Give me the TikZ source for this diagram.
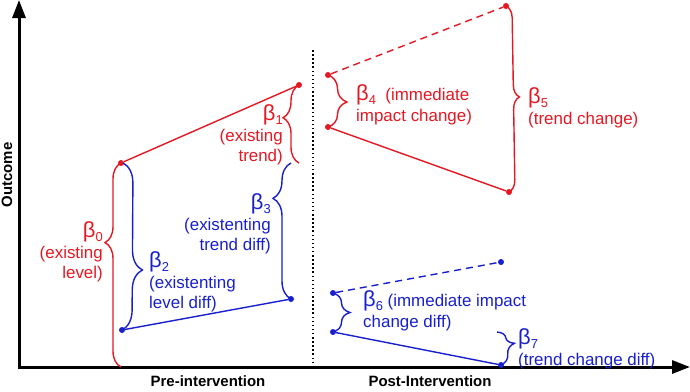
\documentclass[tikz,border=0pt]{standalone}
\usepackage{fontspec}
\setmainfont{Liberation Sans}
\usetikzlibrary{arrows.meta,decorations.pathreplacing,positioning}
\definecolor{rojo}{RGB}{228,24,34}
\definecolor{azul}{RGB}{24,32,205}
\tikzset{
  pt/.style={circle,fill,inner sep=0pt,minimum size=6bp},
  ejes/.style={line width=3bp,{Triangle[length=18bp,width=13bp]}-{Triangle[length=18bp,width=13bp]}},
  recta/.style={line width=1.4bp},
  discont/.style={recta,dash pattern=on 7bp off 5bp},
  llave/.style 2 args={decorate,line width=1.4bp,decoration={brace,amplitude=#1,aspect=#2}},
  etiq/.style={font=\fontsize{17}{21}\selectfont,inner sep=0pt},
  rotulo/.style={font=\fontsize{15}{18}\selectfont\bfseries,inner sep=0pt}
}
\newcommand{\coef}[1]{{\fontsize{22}{22}\selectfont β}\raisebox{-4.5bp}{\fontsize{13}{13}\selectfont #1}}

\begin{document}
\begin{tikzpicture}[x=1bp,y=-1bp]
\useasboundingbox (0,0) rectangle (690,391);
\coordinate (O) at (19,367);
\coordinate (ytop) at (19,0);
\coordinate (xend) at (690,367);
\draw[ejes] (ytop) -- (O) -- (xend);
\node[rotulo,rotate=90] (ylab) at (7,175) {Outcome};
\node[rotulo] (pre) at (208,381) {Pre-intervention};
\node[rotulo] (post) at (430,381) {Post-Intervention};
\coordinate (itop) at (313,50);
\coordinate (ibot) at (313,367);
\draw[line width=1.5bp,dash pattern=on 1.5bp off 2.6bp] (itop) -- (ibot);
% puntos
\foreach \n/\x/\y in {r0/121/163,r1/299/85,r2/328/75,r3/506/6,r4/328/127,r5/509/192}{\node[pt,rojo] (\n) at (\x,\y) {};}
\foreach \n/\x/\y in {a0/122/330,a1/291/299,a2/333/293,a3/501/262,a4/333/332,a5/501/365}{\node[pt,azul] (\n) at (\x,\y) {};}
% rectas
\draw[recta,rojo] (r0) -- (r1);
\draw[discont,rojo] (r2) -- (r3);
\draw[recta,rojo] (r4) -- (r5);
\draw[recta,azul] (a0) -- (a1);
\draw[discont,azul] (a2) -- (a3);
\draw[recta,azul] (a4) -- (a5);
% llaves
\coordinate (k0) at (121,367);
\coordinate (k1) at (299,163);
\coordinate (k2) at (123,163);
\coordinate (k3) at (291,163);
\coordinate (k7) at (497,332);
\draw[llave={16bp}{0.61},rojo] (k0) -- (r0.center);
\draw[llave={16bp}{0.58},rojo] (k1) -- (r1.center);
\draw[llave={19bp}{0.52},rojo] (r2.center) -- (r4.center);
\draw[llave={12bp}{0.49},rojo] (r3.center) -- (r5.center);
\draw[llave={20bp}{0.64},azul] (k2) -- (a0.center);
\draw[llave={18bp}{0.74},azul] (a1.center) -- (k3);
\draw[llave={17bp}{0.5},azul] (a2.center) -- (a4.center);
\draw[llave={16bp}{0.4},azul] (k7) -- (a5.center);
% etiquetas
\node[etiq,rojo,align=right,anchor=north east] (b0) at (103,221) {\coef{0}\\(existing\\level)};
\node[etiq,rojo,align=right,anchor=north east] (b1) at (283,104) {\coef{1}\\(existing\\trend)};
\node[etiq,azul,align=left,anchor=north west] (b2) at (149,251) {\coef{2}\\(existenting\\level diff)};
\node[etiq,azul,align=right,anchor=north east] (b3) at (271,193) {\coef{3}\\(existenting\\trend diff)};
\node[etiq,rojo,align=left,anchor=north west] (b4) at (356,84) {\coef{4}\ \ (immediate\\impact change)};
\node[etiq,rojo,align=left,anchor=north west] (b5) at (528,87) {\coef{5}\\(trend change)};
\node[etiq,azul,align=left,anchor=north west] (b6) at (363,290) {\coef{6} (immediate impact\\change diff)};
\node[etiq,azul,align=left,anchor=north west] (b7) at (518,328) {\coef{7}\\(trend change diff)};
\end{tikzpicture}
\end{document}
